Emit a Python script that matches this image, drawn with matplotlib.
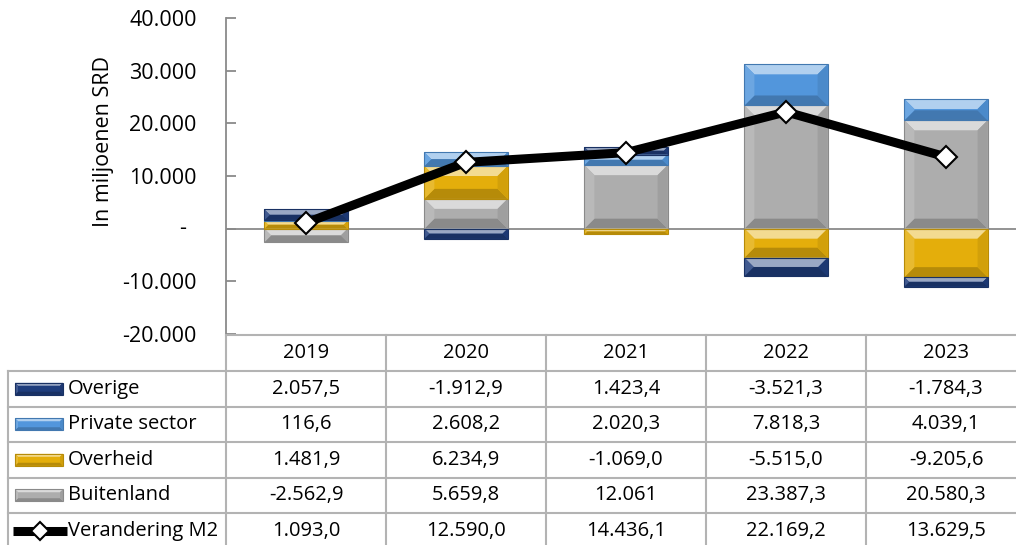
import matplotlib
matplotlib.use('Agg')
import matplotlib.pyplot as plt
import matplotlib.colors as mcolors
from matplotlib.patches import Polygon, Rectangle
from matplotlib.transforms import blended_transform_factory

plt.rcParams['font.family'] = ['Open Sans', 'DejaVu Sans']

# ------------------ data --------------------
years = ['2019', '2020', '2021', '2022', '2023']
overige = [2057.5, -1912.9, 1423.4, -3521.3, -1784.3]
private_sector = [116.6, 2608.2, 2020.3, 7818.3, 4039.1]
overheid = [1481.9, 6234.9, -1069.0, -5515.0, -9205.6]
buitenland = [-2562.9, 5659.8, 12061, 23387.3, 20580.3]
verandering_m2 = [1093.0, 12590.0, 14436.1, 22169.2, 13629.5]
y_ticks = [-20000, -10000, 0, 10000, 20000, 30000, 40000]

# stacking order in the chart (bottom -> top), table order is the reverse
stack = [
    ('Buitenland', buitenland, '#adadad'),
    ('Overheid', overheid, '#e4ae0b'),
    ('Private sector', private_sector, '#5296dc'),
    ('Overige', overige, '#1f3d7c'),
]

GRID = '#b3b3b3'
AXIS = '#8a8a8a'
TABLE_FS = 14.5


def fmt_nl(v):
    # Dutch number style: 1.234,5 (ints are shown without decimals)
    if isinstance(v, int):
        return f'{v:,}'.replace(',', '.')
    s = f'{v:,.1f}'
    return s.replace(',', 'X').replace('.', ',').replace('X', '.')


def bevel(axis, patch, color, depth=8):
    # fake the Excel bevel look on top of a plain rectangle
    (x0, y0), (x1, y1) = axis.transData.transform(
        [(patch.get_x(), patch.get_y()),
         (patch.get_x() + patch.get_width(), patch.get_y() + patch.get_height())])
    x0, x1 = sorted([x0, x1])
    y0, y1 = sorted([y0, y1])
    b = min(depth, (x1 - x0) / 2, (y1 - y0) / 2)
    rgb = mcolors.to_rgb(color)
    light = tuple(c + (1 - c) * 0.55 for c in rgb)
    side_l = tuple(c + (1 - c) * 0.15 for c in rgb)
    side_r = tuple(c * 0.92 for c in rgb)
    dark = tuple(c * 0.8 for c in rgb)
    inv = axis.transData.inverted()
    facets = [
        ([(x0, y1), (x1, y1), (x1 - b, y1 - b), (x0 + b, y1 - b)], light),
        ([(x0, y0), (x1, y0), (x1 - b, y0 + b), (x0 + b, y0 + b)], dark),
        ([(x0, y0), (x0, y1), (x0 + b, y1 - b), (x0 + b, y0 + b)], side_l),
        ([(x1, y0), (x1, y1), (x1 - b, y1 - b), (x1 - b, y0 + b)], side_r),
    ]
    for pts, c in facets:
        axis.add_patch(Polygon(inv.transform(pts), closed=True, facecolor=c,
                               edgecolor='none', zorder=patch.get_zorder() + 0.1))
    axis.add_patch(Rectangle((patch.get_x(), patch.get_y()), patch.get_width(),
                             patch.get_height(), facecolor='none',
                             edgecolor=dark, linewidth=0.8,
                             zorder=patch.get_zorder() + 0.2))


fig = plt.figure(figsize=(10.16, 5.45), dpi=100)
W, H = 1016, 545
# plot area: left edge at x=226px, 160px per category, y 18..334 px
ax = fig.add_axes([226 / W, (H - 334) / H, 800 / W, 316 / H])
ax.set_xlim(-0.5, 4.5)
ax.set_ylim(-20000, 40000)

xs = list(range(len(years)))
pos_base = [0.0] * len(years)
neg_base = [0.0] * len(years)
bar_width = 0.52
patches = []
for name, vals, color in stack:
    bottoms = []
    for i, v in enumerate(vals):
        if v >= 0:
            bottoms.append(pos_base[i])
            pos_base[i] += v
        else:
            bottoms.append(neg_base[i])
            neg_base[i] += v
    bars = ax.bar(xs, vals, bar_width, bottom=bottoms, color=color, zorder=2)
    patches.append((bars, color))

for bars, color in patches:
    for p in bars:
        bevel(ax, p, color, depth=10)

ax.plot(xs, verandering_m2, color='black', linewidth=6.5, marker='D',
        markersize=11, markerfacecolor='white', markeredgecolor='black',
        markeredgewidth=1.5, zorder=5, solid_joinstyle='round')

ax.axhline(0, color=AXIS, linewidth=1.3, zorder=1)
for side in ['top', 'right', 'bottom']:
    ax.spines[side].set_visible(False)
ax.spines['left'].set_color(AXIS)
ax.spines['left'].set_linewidth(1.3)
ax.set_xticks([])
ax.set_yticks(y_ticks)
ax.set_yticklabels(['' if t == 0 else fmt_nl(t) for t in y_ticks])
ax.tick_params(axis='y', direction='in', length=7, width=1.3, color=AXIS,
               labelsize=15.5, pad=21)
ax.text(-0.05, 0, '-', transform=blended_transform_factory(ax.transAxes, ax.transData),
        ha='right', va='center', fontsize=15.5)
ax.set_ylabel('In miljoenen SRD', fontsize=15.5)
ax.yaxis.set_label_coords(-0.14, 0.608)

# ------------------ data table --------------------
tab = fig.add_axes([0, 0, 1, 1], zorder=3)
tab.set_xlim(0, W)
tab.set_ylim(H, 0)
tab.axis('off')
tab.patch.set_visible(False)
colx = blended_transform_factory(ax.transData, tab.transData)

head_top, head_bot, row_h = 335, 371, 35.5
rows = [(name, vals, color) for name, vals, color in reversed(stack)]
rows.append(('Verandering M2', verandering_m2, None))
n_rows = len(rows)
bottom_px = head_bot + n_rows * row_h

# horizontal lines
tab.plot([226, W + 20], [head_top, head_top], color=GRID, lw=1.5)
for k in range(n_rows + 1):
    y = head_bot + k * row_h
    tab.plot([8, W + 20], [y, y], color=GRID, lw=1.5)
# vertical lines
tab.plot([8, 8], [head_bot, bottom_px], color=GRID, lw=1.5)
tab.plot([226, 226], [head_top, bottom_px], color=GRID, lw=1.5)
for i in xs:
    tab.plot([i + 0.5, i + 0.5], [head_top, bottom_px], color=GRID, lw=1.5,
             transform=colx)

for i, yr in enumerate(years):
    tab.text(i, (head_top + head_bot) / 2, yr, transform=colx, ha='center',
             va='center', fontsize=TABLE_FS)

for k, (name, vals, color) in enumerate(rows):
    yc = head_bot + (k + 0.5) * row_h
    if color is not None:
        sw = Rectangle((15, yc - 6), 48, 12, facecolor=color, edgecolor='none')
        tab.add_patch(sw)
        bevel(tab, sw, color, depth=3)
    else:
        tab.plot([13, 67], [yc, yc], color='black', lw=6.5,
                 solid_capstyle='butt')
        tab.plot([40], [yc], marker='D', markersize=9, markerfacecolor='white',
                 markeredgecolor='black', markeredgewidth=1.5)
    tab.text(68, yc, name, ha='left', va='center', fontsize=TABLE_FS)
    for i, v in enumerate(vals):
        tab.text(i, yc, fmt_nl(v), transform=colx, ha='center', va='center',
                 fontsize=TABLE_FS)

fig.savefig('out.png', dpi=100)
